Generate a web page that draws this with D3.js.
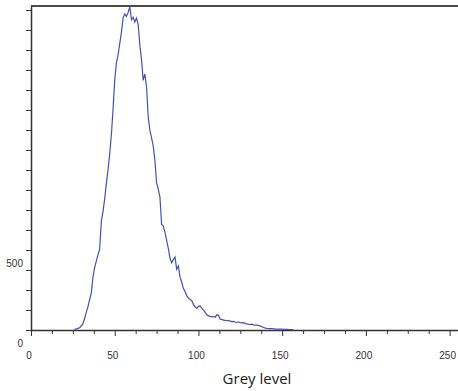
<!DOCTYPE html>
<html>
<head>
<meta charset="utf-8">
<script src="https://cdn.jsdelivr.net/npm/d3@7"></script>
<style>
  html, body { margin: 0; padding: 0; background: #fff; }
  svg { display: block; }
  .axis text { font-family: "Liberation Sans", Arial, sans-serif; font-size: 10px; fill: #333; }
</style>
</head>
<body>
<div id="chart"></div>
<script>
// histogram counts, grey level 26..157 (zero elsewhere)
const firstLevel = 26;
const counts = [
    5, 6, 10, 14, 25, 40, 70, 110, 145, 190,          // 26-35
    230, 330, 390, 430, 470, 505, 680, 740, 820, 915,  // 36-45
    1000, 1100, 1220, 1380, 1560, 1670, 1720, 1790, 1860, 1950, // 46-55
    1975, 1960, 1985, 2020, 1940, 1955, 1925, 1950, 1910, 1780, // 56-65
    1690, 1560, 1600, 1520, 1330, 1250, 1200, 1150, 1060, 920,  // 66-75
    880, 830, 660, 650, 610, 560, 510, 450, 420, 440,  // 76-85
    455, 380, 400, 330, 300, 260, 240, 215, 200, 190,  // 86-95
    185, 160, 145, 135, 148, 150, 135, 125, 110, 95,   // 96-105
    88, 85, 82, 84, 80, 95, 92, 68, 66, 62,            // 106-115
    60, 58, 60, 55, 52, 54, 50, 48, 50, 46,            // 116-125
    44, 46, 40, 38, 36, 34, 36, 32, 30, 30,            // 126-135
    28, 24, 20, 16, 12, 10, 9, 8, 8, 7,                // 136-145
    6, 6, 5, 6, 5, 4, 4, 4, 3, 3,                      // 146-155
    2, 0                                               // 156-157
];
const yTickValues = d3.range(0, 2001, 125);
const yLabelValues = [0, 500];
const xTickValues = d3.range(0, 251, 12.5);
const xLabelValues = [0, 50, 100, 150, 200, 250];
const xTitle = 'Grey level';

const width = 458, height = 391;
const plotLeft = 31, plotTop = 6, plotBottom = 330;

const svg = d3.select('#chart').append('svg')
    .attr('width', width)
    .attr('height', height);

const x = d3.scaleLinear().domain([0, 255]).range([plotLeft, width]);
const y = d3.scaleLinear().domain([0, 2025]).range([plotBottom, plotTop]);

const data = counts.map((c, i) => ({ level: firstLevel + i, count: c }));

// top frame line
svg.append('line')
    .attr('x1', plotLeft).attr('x2', width)
    .attr('y1', plotTop).attr('y2', plotTop)
    .attr('stroke', '#4a4a4a')
    .attr('stroke-width', 2);

// y axis
const yAxis = svg.append('g')
    .attr('class', 'axis')
    .attr('transform', `translate(${plotLeft},0)`)
    .call(d3.axisLeft(y).tickValues(yTickValues).tickFormat('').tickSize(5).tickSizeOuter(0));
yAxis.select('.domain').attr('stroke', '#333').attr('stroke-width', 1.5);
yAxis.selectAll('.tick line').attr('stroke', '#333');

yAxis.selectAll('.ylab')
    .data(yLabelValues)
    .enter().append('text')
    .attr('class', 'ylab')
    .attr('x', -8)
    .attr('y', d => y(d) + 13)
    .attr('dy', '0.35em')
    .attr('text-anchor', 'end')
    .text(d => d);

// x axis
const xAxis = svg.append('g')
    .attr('class', 'axis')
    .attr('transform', `translate(0,${plotBottom})`)
    .call(d3.axisBottom(x).tickValues(xTickValues).tickFormat('').tickSize(5).tickSizeOuter(0));
xAxis.select('.domain').attr('stroke', '#333').attr('stroke-width', 1.5);
xAxis.selectAll('.tick line')
    .attr('stroke', '#333')
    .attr('y2', d => d % 50 === 0 ? 6 : 4);

xAxis.selectAll('.xlab')
    .data(xLabelValues)
    .enter().append('text')
    .attr('class', 'xlab')
    .attr('x', d => x(d) - 2)
    .attr('y', 25)
    .attr('dy', '0.35em')
    .attr('text-anchor', 'middle')
    .text(d => d);

// histogram line
const line = d3.line()
    .x(d => x(d.level))
    .y(d => y(d.count));

svg.append('path')
    .datum(data)
    .attr('fill', 'none')
    .attr('stroke', '#4252b4')
    .attr('stroke-width', 1.2)
    .attr('d', line);

// axis title
svg.append('text')
    .attr('x', 257)
    .attr('y', 379)
    .attr('dy', '0.35em')
    .attr('text-anchor', 'middle')
    .attr('font-family', '"Open Sans", "Liberation Sans", sans-serif')
    .attr('font-size', 15)
    .attr('fill', '#222')
    .text(xTitle);
</script>
</body>
</html>
